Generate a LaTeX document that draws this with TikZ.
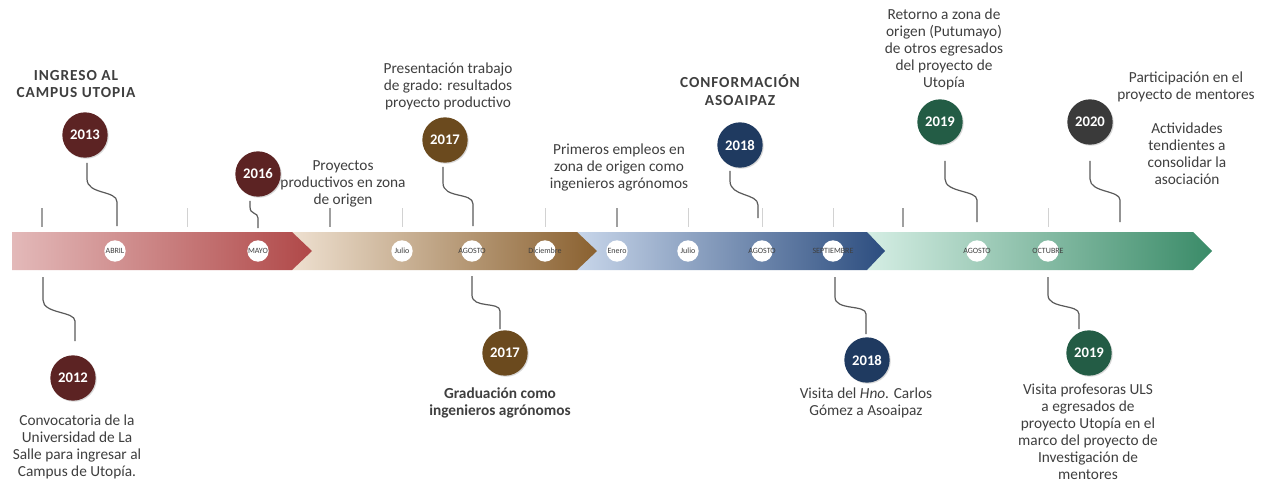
\documentclass[tikz,border=0pt]{standalone}
\usepackage{fontspec}
\setmainfont{Carlito}
\usetikzlibrary{calc,shadows}

\definecolor{txtgray}{HTML}{3F3F3F}
\definecolor{wiregray}{HTML}{5A5A5A}
\definecolor{maroon}{HTML}{5C2323}
\definecolor{bronze}{HTML}{6B4A1E}
\definecolor{navy}{HTML}{1F3A60}
\definecolor{pine}{HTML}{235C45}
\definecolor{coal}{HTML}{3A3A3A}
\definecolor{redL}{HTML}{E3B9B9}
\definecolor{redR}{HTML}{B04848}
\definecolor{beigeL}{HTML}{EEE0D0}
\definecolor{beigeR}{HTML}{8A6130}
\definecolor{blueL}{HTML}{C8D6EA}
\definecolor{blueR}{HTML}{2C4D7F}
\definecolor{greenL}{HTML}{D5EEE4}
\definecolor{greenR}{HTML}{3A8B68}

\begin{document}
\begin{tikzpicture}[x=0.75pt,y=-0.75pt,
	yr/.style={circle,minimum size=34pt,inner sep=0pt,text=white,
		font=\fontsize{11}{13}\selectfont\bfseries,
		drop shadow={opacity=0.3,shadow xshift=0.8pt,shadow yshift=-0.8pt}},
	mon/.style={circle,fill=white,minimum size=16pt,inner sep=0pt},
	montxt/.style={font=\fontsize{6}{7}\selectfont,text=txtgray,inner sep=0pt},
	txt/.style={align=center,text=txtgray,inner sep=0pt,
		font=\fontsize{11.5}{12.75}\selectfont},
	ttl/.style={txt,font=\fontsize{11.5}{13}\selectfont\bfseries\addfontfeature{LetterSpace=6}},
	wire/.style={draw=wiregray,line width=0.9pt},
	thick tick/.style={draw=gray!75,line width=2pt},
	thin tick/.style={draw=gray!35,line width=0.5pt}]

	\fill[white] (0,0) rectangle (1264,483);
	\useasboundingbox (0,0) rectangle (1264,483);

	% band, drawn from the last segment back to the first
	\shade[left color=greenL,right color=greenR] (867,232) -- (1193,232) -- (1212,251) -- (1193,270) -- (867,270) -- cycle;
	\shade[left color=blueL,right color=blueR] (577,232) -- (867,232) -- (885,251) -- (867,270) -- (577,270) -- cycle;
	\shade[left color=beigeL,right color=beigeR] (292,232) -- (577,232) -- (597,251) -- (577,270) -- (292,270) -- cycle;
	\shade[left color=redL,right color=redR] (12,232) -- (292,232) -- (312,251) -- (292,270) -- (12,270) -- cycle;

	% ticks above the band
	\foreach \x in {42,330,617,903}
		\draw[thick tick] (\x,208) -- (\x,227);
	\foreach \x in {187,402,545,688,762,833,1048}
		\draw[thin tick] (\x,208) -- (\x,227);

	% months
	\node[mon,label={[montxt]center:ABRIL}] (abr) at (115,251) {};
	\node[mon,label={[montxt]center:MAYO}] (may) at (258,251) {};
	\node[mon,label={[montxt]center:Julio}] (jul) at (402,251) {};
	\node[mon,label={[montxt]center:AGOSTO}] (ago) at (472,251) {};
	\node[mon,label={[montxt]center:Diciembre}] (dic) at (545,251) {};
	\node[mon,label={[montxt]center:Enero}] (ene) at (617,251) {};
	\node[mon,label={[montxt]center:Julio}] (julb) at (688,251) {};
	\node[mon,label={[montxt]center:AGOSTO}] (agob) at (762,251) {};
	\node[mon,label={[montxt]center:SEPTIEMBRE}] (sep) at (833,251) {};
	\node[mon,label={[montxt]center:AGOSTO}] (agoc) at (977,251) {};
	\node[mon,label={[montxt]center:OCTUBRE}] (oct) at (1048,251) {};

	% years
	\node[yr,fill=maroon] (y13) at (85,135) {2013};
	\node[yr,fill=maroon] (y16) at (258,174) {2016};
	\node[yr,fill=bronze] (y17a) at (445,140) {2017};
	\node[yr,fill=navy] (y18a) at (740,145) {2018};
	\node[yr,fill=pine] (y19a) at (940,122) {2019};
	\node[yr,fill=coal] (y20) at (1090,122) {2020};
	\node[yr,fill=maroon] (y12) at (73,378) {2012};
	\node[yr,fill=bronze] (y17b) at (505,353) {2017};
	\node[yr,fill=navy] (y18b) at (867,360) {2018};
	\node[yr,fill=pine] (y19b) at (1089,353) {2019};

	% connector ends on the band
	\coordinate (k13) at (117,226);
	\coordinate (k16) at (258,228);
	\coordinate (k17a) at (473,226);
	\coordinate (k18a) at (758,218);
	\coordinate (k19a) at (977,222);
	\coordinate (k20) at (1120,222);
	\coordinate (k12) at (43,277);
	\coordinate (k17b) at (472,276);
	\coordinate (k18b) at (835,277);
	\coordinate (k19b) at (1048,277);

	% connectors above
	\draw[wire] ($(y13.south)+(2,5)$) -- ++(0,16) .. controls +(0,16) and +(0,-12) .. ($(k13)+(0,-24)$) -- (k13);
	\draw[wire] ($(y16.south)+(-8,4)$) -- ++(0,6) .. controls +(0,8) and +(0,-6) .. ($(k16)+(0,-10)$) -- (k16);
	\draw[wire] ($(y17a.south)+(-2,4)$) -- ++(0,16) .. controls +(0,16) and +(0,-12) .. ($(k17a)+(0,-22)$) -- (k17a);
	\draw[wire] ($(y18a.south)+(-10,3)$) -- ++(0,10) .. controls +(0,16) and +(0,-12) .. ($(k18a)+(0,-13)$) -- (k18a);
	\draw[wire] ($(y19a.south)+(5,16)$) -- ++(0,18) .. controls +(0,14) and +(0,-10) .. ($(k19a)+(0,-22)$) -- (k19a);
	\draw[wire] ($(y20.south)+(0,16)$) -- ++(0,18) .. controls +(0,14) and +(0,-10) .. ($(k20)+(0,-22)$) -- (k20);

	% connectors below
	\draw[wire] (k12) -- ++(0,23) .. controls +(0,14) and +(0,-10) .. ($(y12.north)+(2,-34)$) -- ($(y12.north)+(2,-14)$);
	\draw[wire] (k17b) -- ++(0,19) .. controls +(0,14) and +(0,-10) .. ($(y17b.north)+(-5,-19)$) -- ($(y17b.north)+(-5,-1)$);
	\draw[wire] (k18b) -- ++(0,20) .. controls +(0,14) and +(0,-10) .. ($(y18b.north)+(-1,-23)$) -- ($(y18b.north)+(-1,-3)$);
	\draw[wire] (k19b) -- ++(0,18) .. controls +(0,14) and +(0,-10) .. ($(y19b.north)+(-10,-16)$) -- ($(y19b.north)+(-10,-1)$);

	% texts above
	\node[ttl] (ingreso) at (76,84) {INGRESO AL\\CAMPUS UTOPIA};
	\node[txt] (proyectos) at (343,184) {Proyectos\\productivos en zona\\de origen};
	\node[txt] (presenta) at (448,86) {Presentación trabajo\\de grado: resultados\\proyecto productivo};
	\node[txt] (empleos) at (619,167) {Primeros empleos en\\zona de origen como\\ingenieros agrónomos};
	\node[ttl] (conforma) at (740,90) {CONFORMACIÓN\\ASOAIPAZ};
	\node[txt] (retorno) at (944,49) {Retorno a zona de\\origen (Putumayo)\\de otros egresados\\del proyecto de\\Utopía};
	\node[txt] (mentores) at (1186,87) {Participación en el\\proyecto de mentores};
	\node[txt] (activ) at (1187,154) {Actividades\\tendientes a\\consolidar la\\asociación};

	% texts below
	\node[txt] (convoca) at (77,447) {Convocatoria de la\\Universidad de La\\Salle para ingresar al\\Campus de Utopía.};
	\node[txt,font=\fontsize{11.5}{12.75}\selectfont\bfseries] (gradua) at (500,403) {Graduación como\\ingenieros agrónomos};
	\node[txt] (visita) at (866,403) {Visita del \textit{Hno.} Carlos\\Gómez a Asoaipaz};
	\node[txt] (profes) at (1088,432) {Visita profesoras ULS\\a egresados de\\proyecto Utopía en el\\marco del proyecto de\\Investigación de\\mentores};

\end{tikzpicture}
\end{document}
